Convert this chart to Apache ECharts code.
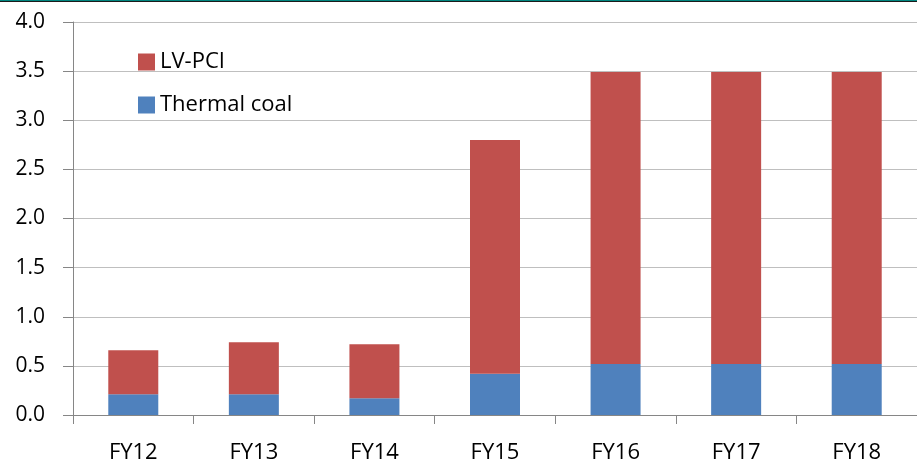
<!DOCTYPE html>
<html>
<head>
<meta charset="utf-8">
<script src="https://cdn.jsdelivr.net/npm/echarts@6/dist/echarts.min.js"></script>
<style>
  html, body { margin: 0; padding: 0; background: #fff; }
  #chart { width: 917px; height: 464px; }
</style>
</head>
<body>
<div id="chart"></div>
<script>
// Fiscal years on the category axis
const categories = ['FY12', 'FY13', 'FY14', 'FY15', 'FY16', 'FY17', 'FY18'];
// Stacked volumes per year
const thermalCoal = [0.21, 0.21, 0.17, 0.42, 0.52, 0.52, 0.52];
const lvPci = [0.45, 0.53, 0.55, 2.38, 2.97, 2.97, 2.97];
// Value axis ticks
const yTicks = [0.0, 0.5, 1.0, 1.5, 2.0, 2.5, 3.0, 3.5, 4.0];

const FONT = '"Open Sans", Lato, sans-serif';
const axisGrey = '#868686';

const chart = echarts.init(document.getElementById('chart'), null, { renderer: 'canvas' });

chart.setOption({
  animation: false,
  backgroundColor: '#ffffff',
  textStyle: { fontFamily: FONT, color: '#000' },
  graphic: [
    { type: 'rect', left: 0, top: 0, shape: { width: 917, height: 1 }, style: { fill: '#00857f' } },
    { type: 'rect', left: 0, top: 1, shape: { width: 917, height: 1 }, style: { fill: '#1b1b1b' } }
  ],
  legend: {
    orient: 'vertical',
    left: 133,
    top: 46,
    itemWidth: 17,
    itemHeight: 17,
    itemGap: 21,
    data: ['LV-PCI', 'Thermal coal'],
    textStyle: { fontFamily: FONT, fontSize: 22, color: '#000', lineHeight: 22 },
    icon: 'rect'
  },
  grid: { left: 73, top: 22, bottom: 48, right: -8, containLabel: false },
  xAxis: {
    type: 'category',
    data: categories,
    boundaryGap: true,
    axisLine: { lineStyle: { color: axisGrey, width: 1 } },
    axisTick: { show: true, alignWithLabel: false, length: 9, lineStyle: { color: axisGrey } },
    axisLabel: { fontFamily: FONT, fontSize: 22, color: '#000', margin: 27 },
    splitLine: { show: false }
  },
  yAxis: {
    type: 'value',
    min: yTicks[0],
    max: yTicks[yTicks.length - 1],
    interval: yTicks[1] - yTicks[0],
    axisLine: { show: true, lineStyle: { color: axisGrey, width: 1 } },
    axisTick: { show: true, inside: false, length: 10, lineStyle: { color: axisGrey } },
    axisLabel: {
      fontFamily: FONT, fontSize: 21, color: '#000', margin: 28,
      formatter: v => v.toFixed(1)
    },
    splitLine: { show: true, lineStyle: { color: '#bfbfbf', width: 1 } }
  },
  series: [
    {
      name: 'Thermal coal',
      type: 'bar',
      stack: 'total',
      data: thermalCoal,
      barWidth: 50,
      itemStyle: { color: '#4f81bd' }
    },
    {
      name: 'LV-PCI',
      type: 'bar',
      stack: 'total',
      data: lvPci,
      barWidth: 50,
      itemStyle: { color: '#c0504d' }
    }
  ]
});
</script>
</body>
</html>
